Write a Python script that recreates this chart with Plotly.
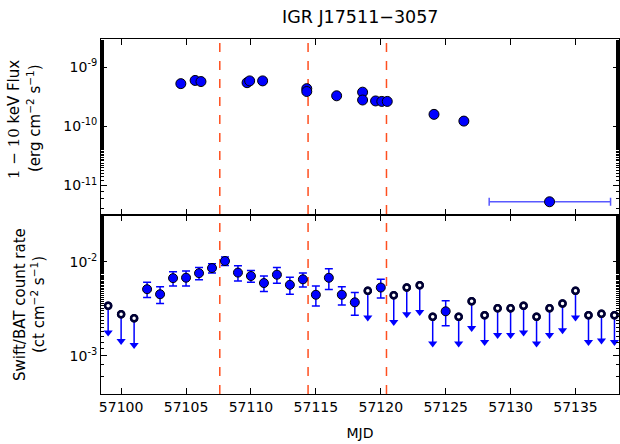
import plotly.graph_objects as go

# ---------------- data ----------------
# Top panel: 1-10 keV flux
flux_mjd = [57104.6, 57105.7, 57106.15, 57109.7, 57109.9, 57110.9, 57114.3, 57114.3,
            57116.6, 57118.6, 57118.6, 57119.6, 57120.08, 57120.5, 57124.1, 57126.4, 57133.0]
flux_val = [5.3e-10, 6.0e-10, 5.75e-10, 5.5e-10, 5.9e-10, 5.9e-10, 4.36e-10, 3.9e-10,
            3.3e-10, 3.8e-10, 2.8e-10, 2.7e-10, 2.65e-10, 2.65e-10, 1.6e-10, 1.23e-10, 5.3e-12]
flux_err = [0, 0, 0, 0, 0, 0, 0, 0,
            0.35e-10, 0, 0, 0, 0, 0, 0, 0, 0]
flux_xerr_lo = [0]*16 + [4.65]
flux_xerr_hi = [0]*16 + [4.7]

# Bottom panel: Swift/BAT detections
bat_mjd = [57102, 57103, 57104, 57105, 57106, 57107, 57108, 57109, 57110, 57111,
           57112, 57113, 57114, 57115, 57116, 57117, 57118, 57120, 57125]
bat_val = [5.1e-3, 4.51e-3, 6.68e-3, 6.75e-3, 7.54e-3, 8.55e-3, 1.015e-2, 7.65e-3, 7.04e-3, 5.93e-3,
           7.27e-3, 5.67e-3, 6.49e-3, 4.45e-3, 6.74e-3, 4.45e-3, 3.7e-3, 5.31e-3, 2.97e-3]
bat_err = [0.93e-3, 0.92e-3, 1.15e-3, 1.22e-3, 1.1e-3, 0.97e-3, 1.07e-3, 1.42e-3, 0.99e-3, 1.12e-3,
           1.37e-3, 1.17e-3, 1.1e-3, 1.07e-3, 1.69e-3, 0.98e-3, 1.0e-3, 1.19e-3, 0.88e-3]

# Bottom panel: Swift/BAT upper limits
ul_mjd = [57099, 57100, 57101, 57119, 57121, 57122, 57123, 57124, 57126, 57127, 57128,
          57129, 57130, 57131, 57132, 57133, 57134, 57135, 57136, 57137, 57138]
ul_val = [3.4e-3, 2.77e-3, 2.5e-3, 4.9e-3, 4.4e-3, 5.3e-3, 5.6e-3, 2.6e-3, 2.6e-3, 3.8e-3, 2.7e-3,
          3.2e-3, 3.2e-3, 3.4e-3, 2.6e-3, 3.2e-3, 3.6e-3, 4.9e-3, 2.7e-3, 2.8e-3, 2.7e-3]
ul_arrow_factor = 0.52  # arrow tip at this fraction of the limit

# Vertical markers
vline_mjd = [57107.6, 57114.4, 57120.44]

x_ticks = [57100, 57105, 57110, 57115, 57120, 57125, 57130, 57135]
x_ticktext = [str(v) for v in x_ticks]
x_range = [57098.45, 57138.35]
top_yticks = [1e-11, 1e-10, 1e-9]
top_ytext = ["10<sup>-11</sup>", "10<sup>-10</sup>", "10<sup>-9</sup>"]
bot_yticks = [1e-3, 1e-2]
bot_ytext = ["10<sup>-3</sup>", "10<sup>-2</sup>"]

FONT = "DejaVu Sans"
BLUE = "#0000ff"

fig = go.Figure()

# top panel flux
fig.add_trace(go.Scatter(
    x=flux_mjd, y=flux_val, mode="markers", xaxis="x2", yaxis="y2",
    marker=dict(color=BLUE, size=10, line=dict(color="black", width=1)),
    error_y=dict(type="data", array=flux_err, color=BLUE, thickness=1.5, width=3),
    error_x=dict(type="data", array=flux_xerr_hi, arrayminus=flux_xerr_lo,
                 color="rgba(60,60,255,0.85)", thickness=1.5, width=4),
    showlegend=False))

# bottom: upper-limit arrows
ul_minus = [v * (1 - ul_arrow_factor) for v in ul_val]
ul_tip = [v * ul_arrow_factor for v in ul_val]
fig.add_trace(go.Scatter(
    x=ul_mjd, y=ul_val, mode="markers", xaxis="x", yaxis="y",
    marker=dict(color="white", size=6, line=dict(color="#000033", width=2.5)),
    error_y=dict(type="data", array=[0]*len(ul_val), arrayminus=ul_minus,
                 color=BLUE, thickness=1.5, width=0),
    showlegend=False))
fig.add_trace(go.Scatter(
    x=ul_mjd, y=ul_tip, mode="markers", xaxis="x", yaxis="y",
    marker=dict(symbol="triangle-down", color=BLUE, size=8, line=dict(width=0)),
    showlegend=False))
fig.add_trace(go.Scatter(
    x=ul_mjd, y=ul_val, mode="markers", xaxis="x", yaxis="y",
    marker=dict(color="white", size=6, line=dict(color="#000033", width=2.5)),
    showlegend=False))

# bottom: detections
fig.add_trace(go.Scatter(
    x=bat_mjd, y=bat_val, mode="markers", xaxis="x", yaxis="y",
    marker=dict(color=BLUE, size=9, line=dict(color="black", width=1)),
    error_y=dict(type="data", array=bat_err, color=BLUE, thickness=1.5, width=4),
    showlegend=False))

for xv in vline_mjd:
    fig.add_shape(type="line", xref="x", yref="paper", x0=xv, x1=xv, y0=0, y1=1,
                  line=dict(color="#ff4f1f", width=1.5, dash="dash"), layer="below")

axis_common = dict(showline=True, linecolor="black", linewidth=1, mirror="allticks",
                   ticks="inside", tickcolor="black", showgrid=False, zeroline=False,
                   tickfont=dict(family=FONT, size=14, color="black"))

fig.update_layout(
    width=620, height=444,
    margin=dict(l=101, r=1, t=39, b=50, autoexpand=False),
    paper_bgcolor="white", plot_bgcolor="white",
    font=dict(family=FONT, color="black"),
    xaxis=dict(domain=[0, 1], range=x_range, tickvals=x_ticks, ticktext=x_ticktext,
               ticklen=6, anchor="y",
               title=dict(text="MJD", font=dict(family=FONT, size=14), standoff=14),
               **axis_common),
    xaxis2=dict(domain=[0, 1], range=x_range, tickvals=x_ticks, ticklen=6, anchor="y2",
                matches="x", showticklabels=False, **axis_common),
    yaxis=dict(domain=[0, 0.5042], type="log", range=[-3.405, -1.505], anchor="x",
               tickvals=bot_yticks, ticktext=bot_ytext, ticklen=6,
               minor=dict(ticks="inside", ticklen=3, tickcolor="black", showgrid=False),
               **axis_common),
    yaxis2=dict(domain=[0.5042, 1], type="log", range=[-11.5, -8.52], anchor="x2",
                tickvals=top_yticks, ticktext=top_ytext, ticklen=6,
                minor=dict(ticks="inside", ticklen=3, tickcolor="black", showgrid=False),
                **axis_common),
)

def px2paper_x(px):
    return (px - 101) / 518.0

def py2paper_y(py):
    return (394 - py) / 355.0

fig.add_annotation(text="IGR J17511\u22123057", xref="paper", yref="paper",
                   x=0.5, y=py2paper_y(17), xanchor="center", yanchor="middle",
                   showarrow=False, font=dict(family=FONT, size=17.5, color="black"))

labels = [
    ("<span style='font-family:DejaVu Serif'>1 \u2212 10</span> keV Flux", 14, 120),
    ("(erg cm<sup>\u22122</sup> s<sup>\u22121</sup>)", 34, 118),
    ("Swift/BAT count rate", 20, 305),
    ("(ct cm<sup>\u22122</sup> s<sup>\u22121</sup>)", 38, 305),
]
for txt, px, py in labels:
    fig.add_annotation(text=txt, xref="paper", yref="paper",
                       x=px2paper_x(px), y=py2paper_y(py), xanchor="center", yanchor="middle",
                       textangle=-90, showarrow=False,
                       font=dict(family=FONT, size=15, color="black"))

fig.write_html("out.html", config={"displayModeBar": False},
               post_script="document.body.style.margin='0';document.body.style.overflow='hidden';")
